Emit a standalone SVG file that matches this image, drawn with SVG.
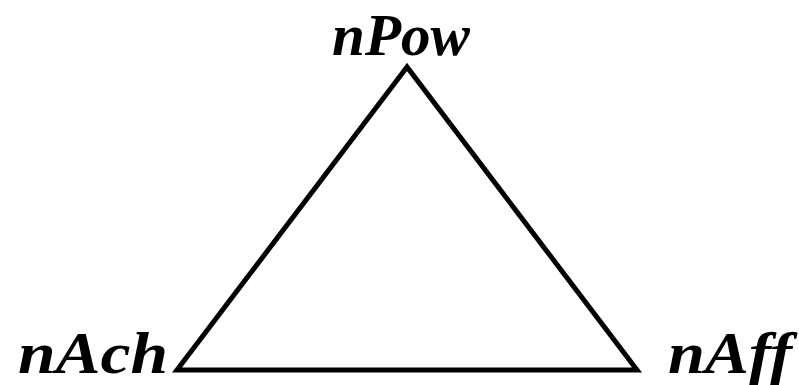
<svg xmlns="http://www.w3.org/2000/svg" width="799" height="385" viewBox="0 0 799 385">
<style>
.lbl{font-family:"Liberation Serif","Times New Roman",serif;font-weight:bold;font-style:italic;font-size:60px;fill:#000}
.edge{fill:none;stroke:#000;stroke-width:5;stroke-linejoin:miter}
</style>
<rect width="799" height="385" fill="#fff"/>
<g id="connectors">
<polygon class="edge" points="407,67 177,370 637,370"/>
</g>
<g id="nPow"><text class="lbl" x="332" y="55" textLength="138" lengthAdjust="spacingAndGlyphs">nPow</text></g>
<g id="nAch"><text class="lbl" x="18" y="373" textLength="150" lengthAdjust="spacingAndGlyphs">nAch</text></g>
<g id="nAff"><text class="lbl" x="668" y="373" textLength="124" lengthAdjust="spacingAndGlyphs">nAff</text></g>
</svg>
